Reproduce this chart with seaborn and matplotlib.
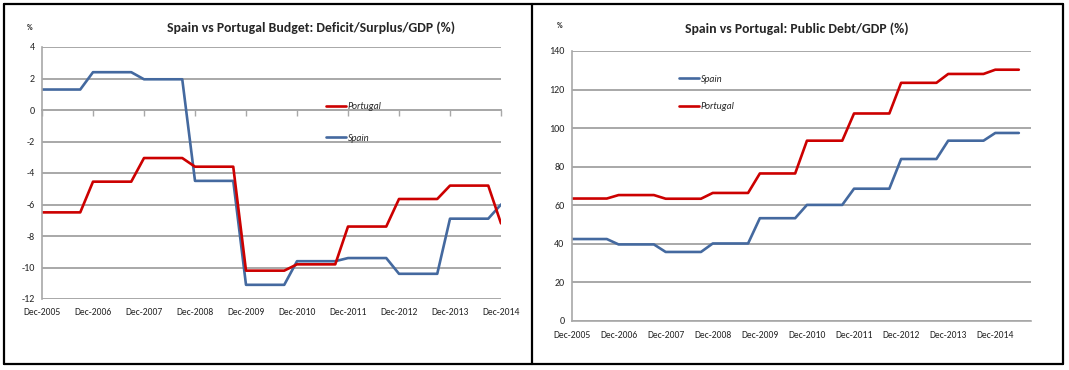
import matplotlib
matplotlib.use("Agg")
import matplotlib.pyplot as plt
import seaborn as sns
import pandas as pd
from matplotlib.lines import Line2D

# ---------------- data (quarterly points, Dec-2005 onward) ----------------
year_labels = ["Dec-2005", "Dec-2006", "Dec-2007", "Dec-2008", "Dec-2009",
               "Dec-2010", "Dec-2011", "Dec-2012", "Dec-2013", "Dec-2014"]

spain_deficit = [1.3, 1.3, 1.3, 1.3,
                 2.4, 2.4, 2.4, 2.4,
                 1.95, 1.95, 1.95, 1.95,
                 -4.5, -4.5, -4.5, -4.5,
                 -11.1, -11.1, -11.1, -11.1,
                 -9.6, -9.6, -9.6, -9.6,
                 -9.4, -9.4, -9.4, -9.4,
                 -10.4, -10.4, -10.4, -10.4,
                 -6.9, -6.9, -6.9, -6.9,
                 -6.0]
portugal_deficit = [-6.5, -6.5, -6.5, -6.5,
                    -4.55, -4.55, -4.55, -4.55,
                    -3.05, -3.05, -3.05, -3.05,
                    -3.6, -3.6, -3.6, -3.6,
                    -10.2, -10.2, -10.2, -10.2,
                    -9.8, -9.8, -9.8, -9.8,
                    -7.4, -7.4, -7.4, -7.4,
                    -5.65, -5.65, -5.65, -5.65,
                    -4.8, -4.8, -4.8, -4.8,
                    -7.2]

spain_debt = [42.5, 42.5, 42.5, 42.5,
              39.7, 39.7, 39.7, 39.7,
              35.8, 35.8, 35.8, 35.8,
              40.2, 40.2, 40.2, 40.2,
              53.3, 53.3, 53.3, 53.3,
              60.2, 60.2, 60.2, 60.2,
              68.6, 68.6, 68.6, 68.6,
              84.0, 84.0, 84.0, 84.0,
              93.5, 93.5, 93.5, 93.5,
              97.5, 97.5, 97.5]
portugal_debt = [63.5, 63.5, 63.5, 63.5,
                 65.3, 65.3, 65.3, 65.3,
                 63.4, 63.4, 63.4, 63.4,
                 66.4, 66.4, 66.4, 66.4,
                 76.5, 76.5, 76.5, 76.5,
                 93.5, 93.5, 93.5, 93.5,
                 107.6, 107.6, 107.6, 107.6,
                 123.5, 123.5, 123.5, 123.5,
                 128.1, 128.1, 128.1, 128.1,
                 130.3, 130.3, 130.3]

# ---------------- style ----------------
sns.set_style("white")
plt.rcParams['font.family'] = ['Carlito', 'DejaVu Sans']

BLUE = "#44699f"
RED = "#cc0000"
GRID = "#a8a8a8"

W, H = 1069, 370
fig = plt.figure(figsize=(W / 100, H / 100), dpi=100)
fig.patch.set_facecolor("white")


def fx(px):
    return px / W


def fy(py):
    return 1 - py / H


# frame lines
for (x0, y0, x1, y1) in [(4, 4, 1063, 4), (4, 364, 1063, 364), (4, 4, 4, 364),
                         (1063, 4, 1063, 364), (532, 4, 532, 364)]:
    fig.add_artist(Line2D([fx(x0), fx(x1)], [fy(y0), fy(y1)],
                          transform=fig.transFigure, color="black", lw=1.6))

tick_pos = [4 * i for i in range(len(year_labels))]
XLAB = 6.9
YLAB = 7.2
LEG = 7.0
TITLE = 9.9

# ---------------- left chart ----------------
ax1 = fig.add_axes([fx(42), fy(299), fx(501) - fx(42), fy(47) - fy(299)])
df1 = pd.DataFrame({"q": range(len(spain_deficit)),
                    "Spain": spain_deficit, "Portugal": portugal_deficit})
sns.lineplot(data=df1, x="q", y="Spain", ax=ax1, color=BLUE, lw=1.9, label="Spain")
sns.lineplot(data=df1, x="q", y="Portugal", ax=ax1, color=RED, lw=1.9, label="Portugal")
ax1.set_xlim(0, 36)
ax1.set_ylim(-12, 4)
ax1.set_yticks(range(-12, 5, 2))
ax1.set_yticklabels([str(v) for v in range(-12, 5, 2)])
ax1.set_xticks(tick_pos)
ax1.set_xticklabels(year_labels)
ax1.set_xlabel("")
ax1.set_ylabel("")
ax1.grid(axis="y", color=GRID, lw=1.4)
ax1.set_axisbelow(True)
for s in ["top", "right", "bottom"]:
    ax1.spines[s].set_visible(False)
ax1.spines["left"].set_color(GRID)
ax1.spines["left"].set_linewidth(1.2)
ax1.tick_params(axis="x", length=0, pad=6.5, labelsize=XLAB)
ax1.tick_params(axis="y", length=3, color=GRID, pad=2, labelsize=YLAB)
sec = ax1.secondary_xaxis(0.75)
sec.set_alignment("bottom")
sec.set_xticks(tick_pos)
sec.set_xticklabels([])
sec.tick_params(axis="x", length=4, color=GRID, width=1)
sec.spines["bottom"].set_color(GRID)
sec.spines["bottom"].set_linewidth(1.4)
h, l = ax1.get_legend_handles_labels()
ax1.legend([h[1], h[0]], [l[1], l[0]], loc="center left",
           bbox_to_anchor=(fx(326), fy(122.5)), bbox_transform=fig.transFigure,
           frameon=False, handlelength=2.1, handletextpad=0.15, labelspacing=2.3,
           borderpad=0, borderaxespad=0, prop={"style": "italic", "size": LEG})
fig.text(fx(311), fy(28), "Spain vs Portugal Budget: Deficit/Surplus/GDP (%)",
         ha="center", va="center", fontsize=TITLE, fontweight="bold")
fig.text(fx(30), fy(28), "%", ha="center", va="center", fontsize=5.5, fontweight="bold")

# ---------------- right chart ----------------
ax2 = fig.add_axes([fx(571.5), fy(321), fx(1030.6) - fx(571.5), fy(51) - fy(321)])
df2 = pd.DataFrame({"q": range(len(spain_debt)),
                    "Spain": spain_debt, "Portugal": portugal_debt})
sns.lineplot(data=df2, x="q", y="Spain", ax=ax2, color=BLUE, lw=1.9, label="Spain")
sns.lineplot(data=df2, x="q", y="Portugal", ax=ax2, color=RED, lw=1.9, label="Portugal")
ax2.set_xlim(0, 39)
ax2.set_ylim(0, 140)
ax2.set_yticks(range(0, 141, 20))
ax2.set_xticks(tick_pos)
ax2.set_xticklabels(year_labels)
ax2.set_xlabel("")
ax2.set_ylabel("")
ax2.grid(axis="y", color=GRID, lw=1.4)
ax2.set_axisbelow(True)
for s in ["top", "right"]:
    ax2.spines[s].set_visible(False)
for s in ["left", "bottom"]:
    ax2.spines[s].set_color(GRID)
    ax2.spines[s].set_linewidth(1.2)
ax2.tick_params(axis="x", length=4, color=GRID, pad=3, labelsize=XLAB)
ax2.tick_params(axis="y", length=3, color=GRID, pad=2, labelsize=YLAB)
ax2.legend(loc="center left",
           bbox_to_anchor=(fx(679), fy(93)), bbox_transform=fig.transFigure,
           frameon=False, handlelength=2.1, handletextpad=0.15, labelspacing=1.95,
           borderpad=0, borderaxespad=0, prop={"style": "italic", "size": LEG})
fig.text(fx(797), fy(29), "Spain vs Portugal: Public Debt/GDP (%)",
         ha="center", va="center", fontsize=TITLE, fontweight="bold")
fig.text(fx(560), fy(25), "%", ha="center", va="center", fontsize=5.5, fontweight="bold")

fig.savefig("out.png", dpi=100, facecolor="white")
